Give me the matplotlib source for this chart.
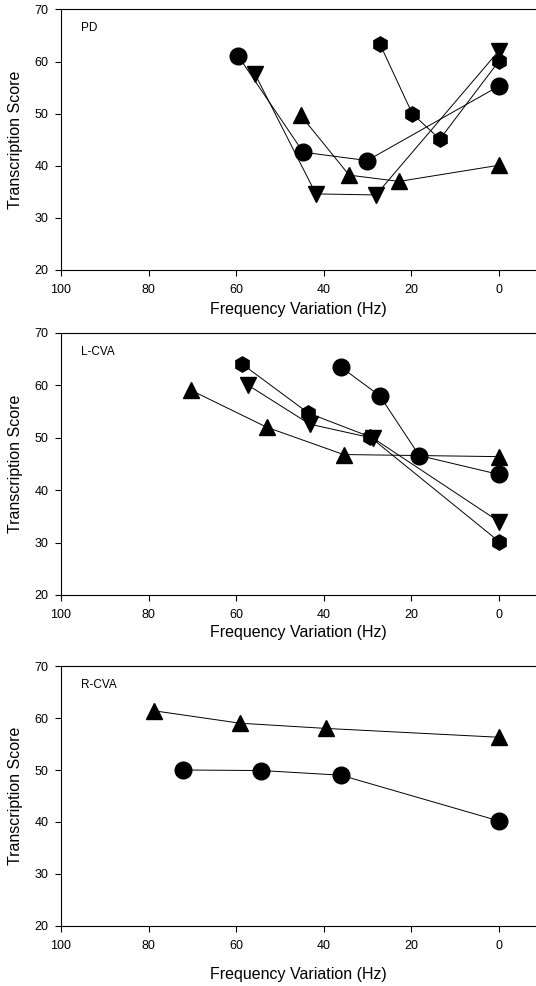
import matplotlib
matplotlib.use("Agg")
import matplotlib.pyplot as plt

plt.rcParams['font.family'] = ['Liberation Sans', 'DejaVu Sans']

# PD panel
pd_circle_x = [59.5, 44.7, 30.1, 0]
pd_circle_y = [61.0, 42.6, 41.0, 55.3]
pd_down_x = [55.7, 41.8, 28.1, 0]
pd_down_y = [57.6, 34.6, 34.4, 62.1]
pd_up_x = [45.3, 34.2, 22.8, 0]
pd_up_y = [49.7, 38.2, 37.0, 40.1]
pd_hex_x = [27.2, 19.8, 13.5, 0]
pd_hex_y = [63.4, 50.0, 45.1, 60.1]

# L-CVA panel
lcva_hex_x = [58.7, 43.5, 29.5, 0]
lcva_hex_y = [64.1, 54.7, 50.2, 30.2]
lcva_circle_x = [36.1, 27.2, 18.2, 0]
lcva_circle_y = [63.5, 58.0, 46.6, 43.0]
lcva_down_x = [57.4, 43.2, 28.7, 0]
lcva_down_y = [60.1, 52.6, 49.9, 34.0]
lcva_up_x = [70.4, 53.0, 35.5, 0]
lcva_up_y = [59.1, 52.0, 46.8, 46.4]

# R-CVA panel
rcva_up_x = [78.8, 59.1, 39.5, 0]
rcva_up_y = [61.4, 59.0, 58.0, 56.3]
rcva_circle_x = [72.1, 54.3, 36.1, 0]
rcva_circle_y = [50.0, 49.9, 49.0, 40.2]

xticks = [100, 80, 60, 40, 20, 0]
yticks = [20, 30, 40, 50, 60, 70]

panels = [
    ("PD", [(pd_circle_x, pd_circle_y, 'o'), (pd_down_x, pd_down_y, 'v'),
            (pd_up_x, pd_up_y, '^'), (pd_hex_x, pd_hex_y, 'h')]),
    ("L-CVA", [(lcva_hex_x, lcva_hex_y, 'h'), (lcva_circle_x, lcva_circle_y, 'o'),
               (lcva_down_x, lcva_down_y, 'v'), (lcva_up_x, lcva_up_y, '^')]),
    ("R-CVA", [(rcva_up_x, rcva_up_y, '^'), (rcva_circle_x, rcva_circle_y, 'o')]),
]

# axes boxes in figure fraction: left, bottom, width, height
boxes = [
    [0.1138, 0.7262, 0.8862, 0.2642],
    [0.1138, 0.3966, 0.8862, 0.2657],
    [0.1138, 0.0609, 0.8862, 0.2636],
]
# x label offsets below each panel (axes fraction)
xlab_y = [-0.150, -0.145, -0.185]

sizes = {'o': 12, 'v': 11, '^': 11, 'h': 11}

fig = plt.figure(figsize=(5.36, 9.86), dpi=100)
for (name, series), box, ly in zip(panels, boxes, xlab_y):
    ax = fig.add_axes(box)
    for xs, ys, m in series:
        ax.plot(xs, ys, color='black', lw=0.7, marker=m, ms=sizes[m],
                markerfacecolor='black', markeredgecolor='black', clip_on=False)
    ax.set_xlim(100, -8.45)
    ax.set_ylim(20, 70)
    ax.set_xticks(xticks)
    ax.set_yticks(yticks)
    ax.spines['right'].set_visible(False)
    for s in ['left', 'top', 'bottom']:
        ax.spines[s].set_linewidth(0.8)
    ax.tick_params(direction='out', length=4, width=0.8, labelsize=9)
    ax.tick_params(axis='x', pad=6)
    ax.tick_params(axis='y', pad=5)
    ax.set_xlabel("Frequency Variation (Hz)", fontsize=11.5, va='center')
    ax.set_ylabel("Transcription Score", fontsize=11.5, va='center')
    ax.xaxis.set_label_coords(0.5, ly)
    ax.yaxis.set_label_coords(-0.095, 0.5)
    ax.text(0.0415, 0.927, name, transform=ax.transAxes, fontsize=8.5,
            va='center', ha='left')

fig.savefig("out.png", dpi=100)
